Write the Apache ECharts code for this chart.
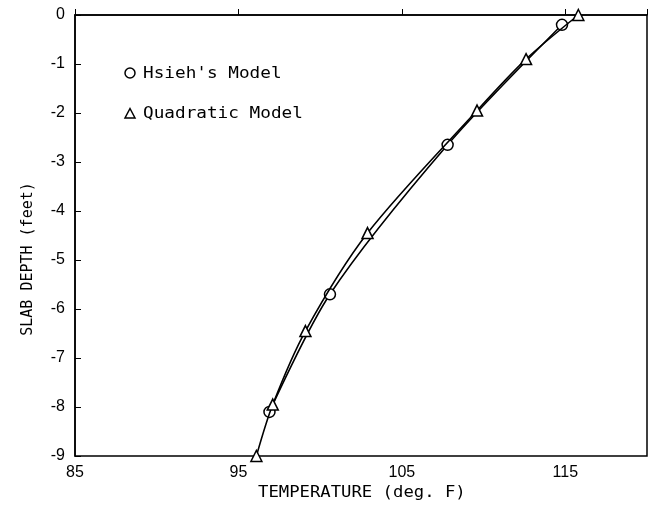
<!DOCTYPE html>
<html>
<head>
<meta charset="utf-8">
<script src="https://cdn.jsdelivr.net/npm/echarts@6/dist/echarts.min.js"></script>
<style>
  html, body { margin: 0; padding: 0; background: #fff; }
  #chart { width: 655px; height: 505px; }
</style>
</head>
<body>
<div id="chart"></div>
<script>
// Slab temperature profiles: temperature (deg. F) vs depth (feet)
const hsiehTemp  = [114.8, 107.8, 100.6, 96.9];
const hsiehDepth = [-0.2, -2.65, -5.7, -8.1];

const quadTemp  = [115.8, 112.6, 109.6, 102.9, 99.1, 97.1, 96.1];
const quadDepth = [0, -0.9, -1.95, -4.45, -6.45, -7.95, -9];

const xTicks = [85, 95, 105, 115];
const yTicks = [0, -1, -2, -3, -4, -5, -6, -7, -8, -9];

const seriesNames = ["Hsieh's Model", 'Quadratic Model'];
const xTitle = 'TEMPERATURE (deg. F)';
const yTitle = 'SLAB DEPTH (feet)';

const pair = (xs, ys) => xs.map((x, i) => [x, ys[i]]);

const font = 'Liberation Sans, Arial, sans-serif';
const mono = 'DejaVu Sans Mono, Liberation Mono, monospace';

const chart = echarts.init(document.getElementById('chart'), null, { renderer: 'canvas' });

const hollow = { color: '#fff', borderColor: '#000', borderWidth: 1.5 };

// plotter-style text, stretched horizontally
function plotText(text, x, y, opts) {
  return Object.assign({
    type: 'text', x: x, y: y, silent: true,
    style: {
      text: text, fill: '#000', font: '15px ' + mono,
      textAlign: 'left', textVerticalAlign: 'middle'
    }
  }, opts || {});
}

chart.setOption({
  animation: false,
  backgroundColor: '#fff',
  grid: {
    left: 75, right: 8, top: 15, bottom: 49,
    show: true, borderColor: '#000', borderWidth: 1.5, backgroundColor: 'transparent'
  },
  xAxis: {
    type: 'value', min: 85, max: 120, interval: 10,
    axisLine: { lineStyle: { color: '#000', width: 1.5 } },
    axisTick: { inside: true, length: 6, lineStyle: { color: '#000' } },
    axisLabel: {
      fontFamily: font, fontSize: 16, color: '#000', margin: 9,
      formatter: v => xTicks.includes(v) ? String(v) : ''
    },
    splitLine: { show: false }
  },
  yAxis: {
    type: 'value', min: -9, max: 0, interval: 1,
    axisLine: { lineStyle: { color: '#000', width: 1.5 } },
    axisTick: { inside: true, length: 6, lineStyle: { color: '#000' } },
    axisLabel: {
      fontFamily: font, fontSize: 16, color: '#000', margin: 10,
      formatter: v => yTicks.includes(v) ? String(v) : ''
    },
    splitLine: { show: false }
  },
  graphic: [
    // axis titles
    plotText(xTitle, 258, 493, { scaleX: 1.15 }),
    plotText(yTitle, 28, 259, {
      rotation: Math.PI / 2,
      style: { text: yTitle, fill: '#000', font: '15px ' + mono,
               textAlign: 'center', textVerticalAlign: 'middle' }
    }),
    // legend
    { type: 'circle', shape: { cx: 130, cy: 73, r: 5 }, silent: true,
      style: { fill: '#fff', stroke: '#000', lineWidth: 1.5 } },
    plotText(seriesNames[0], 143, 74, { scaleX: 1.18 }),
    { type: 'polygon', shape: { points: [[130, 108.5], [135, 118], [125, 118]] }, silent: true,
      style: { fill: '#fff', stroke: '#000', lineWidth: 1.5 } },
    plotText(seriesNames[1], 143, 114, { scaleX: 1.18 })
  ],
  series: [
    {
      name: seriesNames[0], type: 'line', smooth: 0.3,
      data: pair(hsiehTemp, hsiehDepth),
      symbol: 'circle', symbolSize: 11,
      lineStyle: { color: '#000', width: 1.6 },
      itemStyle: hollow,
      z: 3
    },
    {
      name: seriesNames[1], type: 'line', smooth: 0.3,
      data: pair(quadTemp, quadDepth),
      symbol: 'triangle', symbolSize: 11,
      lineStyle: { color: '#000', width: 1.6 },
      itemStyle: hollow,
      z: 4
    }
  ]
});
</script>
</body>
</html>
